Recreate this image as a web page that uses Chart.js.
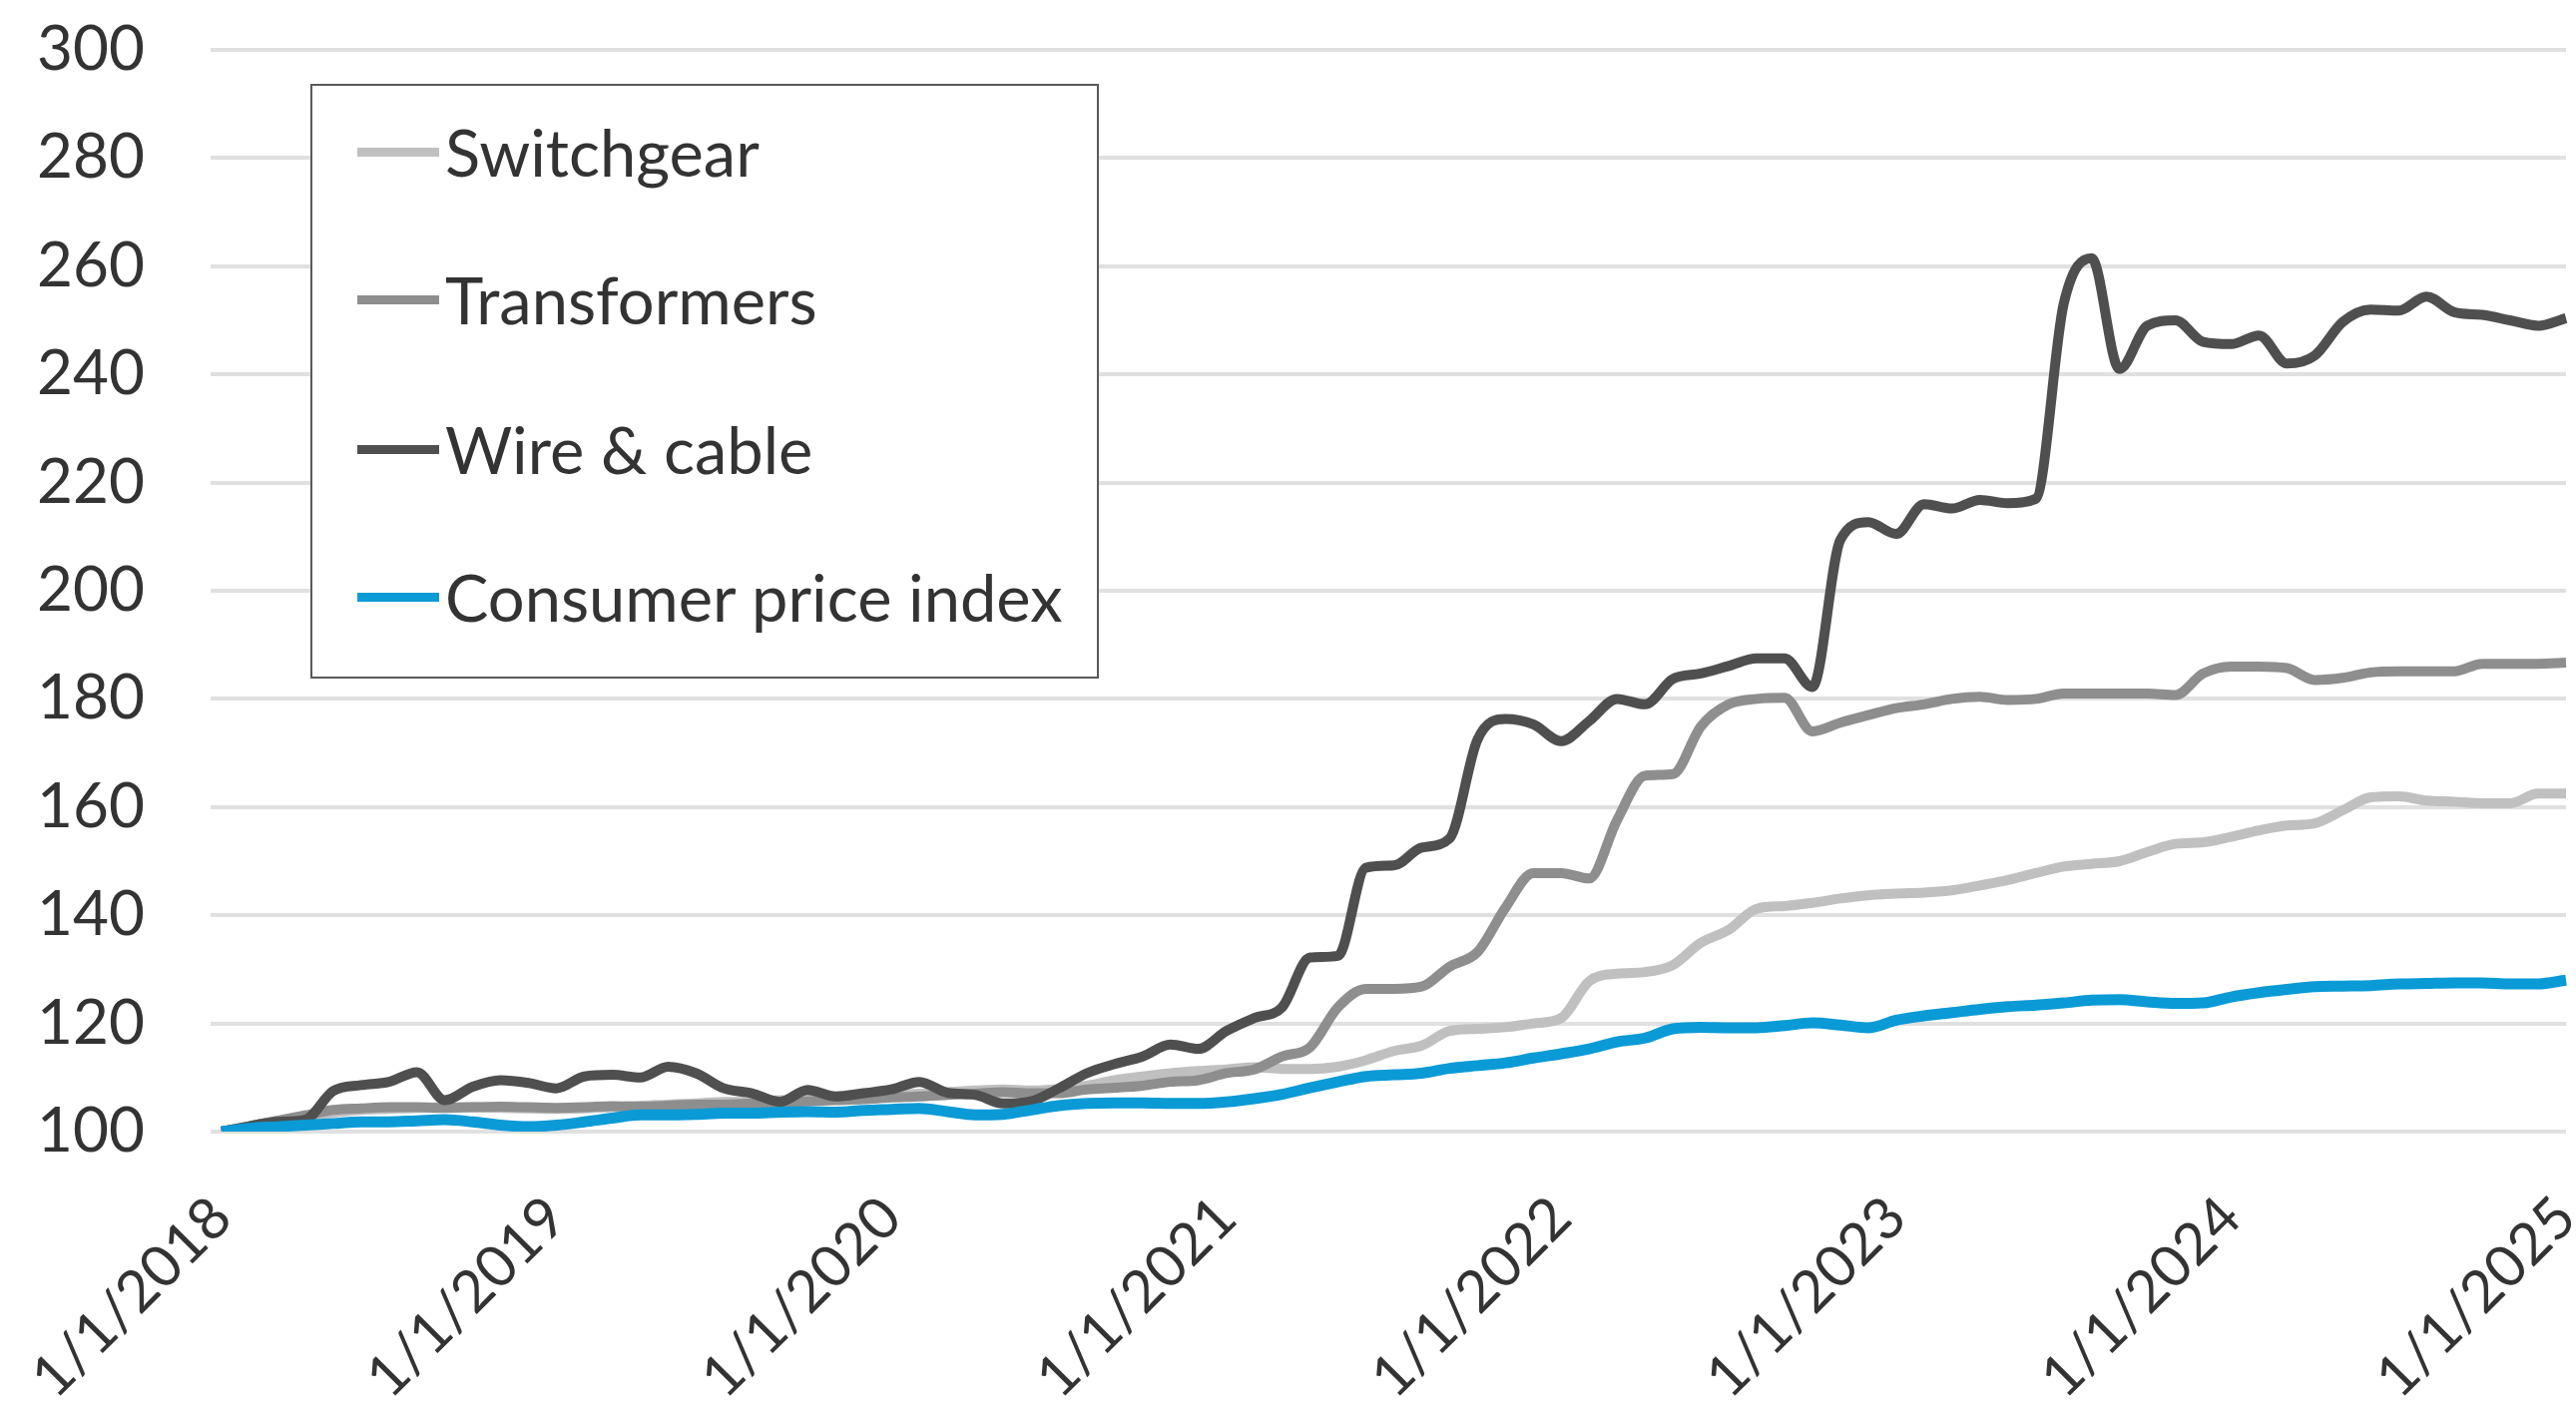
<!DOCTYPE html>
<html>
<head>
<meta charset="utf-8">
<script src="https://cdn.jsdelivr.net/npm/chart.js@4.4.1/dist/chart.umd.min.js"></script>
<style>
  html, body { margin: 0; padding: 0; background: #fff; }
  #wrap { position: relative; width: 2581px; height: 1419px; }
  #legend {
    position: absolute; left: 311px; top: 84px; width: 786px; height: 592px;
    border: 2px solid #595959; background: #fff;
    font-family: Lato, sans-serif; font-size: 65px; color: #333;
  }
  .item { position: absolute; left: 45px; height: 80px; display: flex; align-items: center; white-space: nowrap; }
  .swatch { width: 82px; height: 9px; margin-right: 6px; }
</style>
</head>
<body>
<div id="wrap">
  <canvas id="priceChart" width="2581" height="1419"></canvas>
  <div id="legend"></div>
</div>
<script>
// Index values, monthly from 1/1/2018 to 1/1/2025 (2018 = 100)
const years = ['2018', '2019', '2020', '2021', '2022', '2023', '2024'];
const lastLabel = '1/1/2025';

const switchgear = [
    100, 101, 102, 102.8, 103.5, 104, 104.2, 104.4, 104.5, 104.5, 104.4, 104.3,
    104.2, 104.3, 104.5, 104.8, 105, 105.2, 105.5, 105.5, 105.8, 106, 106.3, 106.5,
    106.8, 107, 107.3, 107.6, 107.8, 107.6, 107.9, 108.5, 109.5, 110.2, 110.8, 111.2,
    111.5, 111.9, 111.6, 111.6, 112, 113.2, 114.9, 115.9, 118.6, 119, 119.3, 120,
    121, 127.8, 129.2, 129.5, 130.8, 134.9, 137.3, 141.2, 141.7, 142.3, 143.1, 143.7,
    144, 144.2, 144.6, 145.5, 146.5, 147.8, 149, 149.5, 150, 151.7, 153.2, 153.5,
    154.5, 155.7, 156.6, 157, 159.4, 161.8, 162, 161.2, 161, 160.7, 160.7, 162.5,
    162.5
];
const transformers = [
    100, 101, 102, 103, 104, 104.3, 104.5, 104.5, 104.4, 104.5, 104.6, 104.5,
    104.4, 104.5, 104.7, 104.6, 104.8, 105, 105, 105.2, 105.4, 105.6, 105.8, 106,
    106.3, 106.5, 106.8, 107, 107.3, 107.1, 107.1, 107.8, 108.1, 108.5, 109.2, 109.5,
    110.8, 111.5, 113.9, 115.6, 123, 126.4, 126.4, 126.8, 130.5, 133.2, 141.4, 147.8,
    147.8, 146.8, 157.6, 165.8, 166.1, 174.9, 179, 180, 180.2, 174, 175.6, 177,
    178.3, 179, 180, 180.4, 179.8, 180, 181, 181, 181, 181, 180.7, 184.7,
    186, 186, 185.7, 183.5, 183.9, 184.9, 185.1, 185.1, 185.1, 186.5, 186.5, 186.5,
    186.7
];
const wireCable = [
    100, 101, 101.8, 102.2, 107.5, 108.6, 109.2, 111, 105.8, 108.3, 109.5, 109,
    108, 110.2, 110.5, 110, 112, 110.8, 108, 107.1, 105.5, 107.7, 106.5, 107.1,
    107.8, 109.2, 107.2, 106.8, 105.2, 105.6, 108, 110.8, 112.5, 113.9, 116.1, 115.3,
    118.6, 121, 123, 132.2, 132.5, 148.8, 149.2, 152.5, 154.2, 172.5, 176.3, 175.3,
    172.2, 175.9, 180, 179, 183.7, 184.7, 186.1, 187.5, 187.5, 182.2, 209.4, 212.7,
    210.5, 216, 215.2, 216.8, 216.2, 217, 253, 261.5, 241, 249, 250, 246,
    245.6, 247.2, 242, 243.5, 249.7, 252, 251.8, 254.4, 251.5, 251, 250, 249,
    250.4
];
const cpi = [
    100, 100.6, 100.9, 101.2, 101.5, 101.8, 101.8, 102, 102.2, 101.8, 101.2, 100.9,
    101.2, 101.8, 102.5, 103.1, 103.1, 103.2, 103.4, 103.4, 103.6, 103.7, 103.6, 103.9,
    104.1, 104.3, 103.7, 103.1, 103.2, 104, 104.8, 105.2, 105.3, 105.3, 105.2, 105.2,
    105.5, 106.1, 106.9, 108.1, 109.2, 110.2, 110.5, 110.8, 111.7, 112.2, 112.7, 113.6,
    114.4, 115.3, 116.6, 117.3, 119, 119.3, 119.2, 119.2, 119.6, 120.1, 119.7, 119.2,
    120.6, 121.4, 122, 122.6, 123.1, 123.4, 123.8, 124.3, 124.4, 124, 123.7, 123.8,
    124.9, 125.7, 126.3, 126.8, 126.9, 127, 127.3, 127.4, 127.5, 127.5, 127.3, 127.3,
    128
];

// month labels like 1/1/2018, 2/1/2018 ...
const labels = [];
years.forEach(y => {
    for (let m = 1; m <= 12; m++) labels.push(m + '/1/' + y);
});
labels.push(lastLabel);

// legend order as in the picture; drawing order puts CPI on top
const series = [
    { label: 'Switchgear', data: switchgear, color: '#c0c0c0' },
    { label: 'Transformers', data: transformers, color: '#8e8e8e' },
    { label: 'Wire & cable', data: wireCable, color: '#4f4f4f' },
    { label: 'Consumer price index', data: cpi, color: '#0a9ad6' }
];

const ctx = document.getElementById('priceChart').getContext('2d');
const priceChart = new Chart(ctx, {
    type: 'line',
    data: {
        labels: labels,
        datasets: series.slice().reverse().map(s => ({
            label: s.label,
            data: s.data,
            borderColor: s.color,
            backgroundColor: s.color,
            borderWidth: s.label === 'Consumer price index' ? 11 : 10,
            pointRadius: 0,
            cubicInterpolationMode: 'monotone',
            fill: false
        }))
    },
    options: {
        responsive: false,
        animation: false,
        devicePixelRatio: 1,
        layout: { padding: { top: 50, right: 10, left: 0, bottom: 0 } },
        plugins: { legend: { display: false }, tooltip: { enabled: false } },
        scales: {
            x: {
                grid: { display: false },
                border: { display: false },
                ticks: {
                    autoSkip: false,
                    minRotation: 45,
                    maxRotation: 45,
                    padding: 44,
                    color: '#333',
                    font: { family: 'Lato', size: 58 },
                    callback: function (v, i) {
                        const l = labels[i];
                        return l.startsWith('1/1/') ? l : '';
                    }
                },
                afterFit: s => { s.height = 285; s.paddingLeft = 0; s.paddingRight = 0; }
            },
            y: {
                min: 100,
                max: 300,
                border: { display: false },
                grid: { color: '#e0e0e0', lineWidth: 4, tickLength: 11, tickColor: '#e0e0e0' },
                ticks: { stepSize: 20, padding: 66, color: '#333', font: { family: 'Lato', size: 62 } },
                afterFit: s => { s.width = 222; s.paddingTop = 0; s.paddingBottom = 0; }
            }
        }
    }
});

// legend box inside the plot
const legendEl = document.getElementById('legend');
const rowTops = [26, 174, 324, 472];
series.forEach((s, i) => {
    const item = document.createElement('div');
    item.className = 'item';
    item.style.top = rowTops[i] + 'px';
    item.innerHTML = '<span class="swatch" style="background:' + s.color + '"></span>';
    item.appendChild(document.createTextNode(s.label));
    legendEl.appendChild(item);
});
</script>
</body>
</html>
